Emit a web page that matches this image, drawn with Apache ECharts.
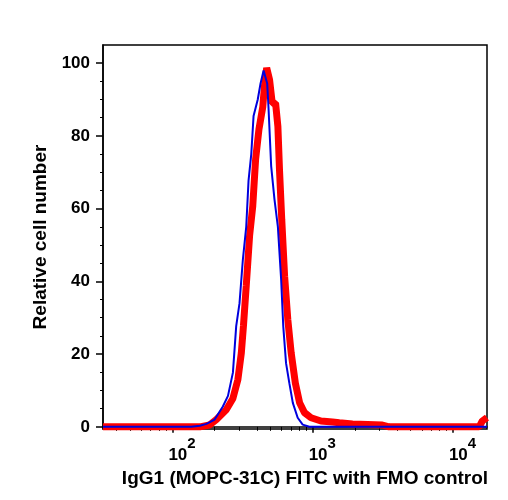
<!DOCTYPE html>
<html>
<head>
<meta charset="utf-8">
<script src="https://cdn.jsdelivr.net/npm/echarts@6/dist/echarts.min.js"></script>
<style>
  html, body { margin: 0; padding: 0; background: #fff; }
  #chart-container { width: 508px; height: 500px; }
</style>
</head>
<body>
<div id="chart-container"></div>
<script>
// FMO control (blue, thin)
var blueX = [32, 100, 136, 157, 175, 200, 229, 249, 270, 285, 301, 318, 336, 349, 365, 379, 406, 425, 447, 461, 474, 484, 506, 534, 565, 596, 617, 646, 682, 722, 782, 849, 947, 17500];
var blueY = [0, 0, 0, 0.3, 0.8, 2, 5.6, 8.5, 14.9, 27.7, 34, 46, 55, 67.7, 75, 85.5, 90, 94.4, 98, 98.3, 94.4, 88, 71.7, 62.6, 55, 40.5, 27.7, 17.5, 12, 6.6, 2.5, 0.6, 0, 0];

// IgG1 FITC (red, thick)
var redX = [32, 100, 157, 184, 206, 242, 270, 293, 310, 321, 336, 355, 374, 392, 414, 441, 453, 470, 493, 515, 544, 565, 580, 602, 631, 665, 703, 753, 807, 874, 974, 1146, 1385, 1549, 1925, 3140, 3500, 15400, 16200, 17200, 17500];
var redY = [0, 0, 0, 0.5, 2, 4.7, 7.8, 13, 20.3, 27.7, 38.7, 52.5, 60.7, 73.6, 81.8, 88, 93.6, 98.7, 95.4, 89, 89, 82.6, 70.8, 57, 41.4, 29.5, 20.3, 12, 6.6, 3.9, 2.5, 1.6, 1.3, 1.1, 0.8, 0.5, 0, 0, 1.6, 2.3, 2.5];

var yMajor = [0, 20, 40, 60, 80, 100];
var yMinor = [5, 10, 15, 25, 30, 35, 45, 50, 55, 65, 70, 75, 85, 90, 95];
var xMajor = [100, 1000, 10000];
var xMinor = [40, 50, 60, 70, 80, 90, 200, 300, 400, 500, 600, 700, 800, 900,
  2000, 3000, 4000, 5000, 6000, 7000, 8000, 9000];

function zip(xs, ys) {
  return xs.map(function (x, i) { return [x, ys[i]]; });
}

var dom = document.getElementById("chart-container");
var myChart = echarts.init(dom, null, { renderer: "canvas" });

var font = "Liberation Sans";
var xMin = 32, xMax = 17500, yMin = -0.6, yMax = 105;

var option = {
  animation: false,
  textStyle: { fontFamily: font },
  grid: {
    left: 103, right: 21, top: 45, bottom: 71,
    show: true, borderColor: "#000", borderWidth: 1.5
  },
  xAxis: [
    {
      type: "log", logBase: 10, min: xMin, max: xMax,
      name: "IgG1 (MOPC-31C) FITC with FMO control",
      nameLocation: "middle", nameGap: 38,
      nameTextStyle: { fontSize: 19, fontWeight: "bold", color: "#000", fontFamily: font, padding: [0, 0, 0, 20] },
      axisLine: { show: true, lineStyle: { color: "#000", width: 1.5 } },
      axisTick: { show: true, length: 6, lineStyle: { color: "#000", width: 1.5 }, customValues: xMajor },
      axisLabel: {
        customValues: xMajor, margin: 7, align: "left",
        formatter: function (v) {
          return "{b|10}{s|" + Math.round(Math.log10(v)) + "}";
        },
        rich: {
          b: { fontSize: 17, fontWeight: "bold", color: "#000", fontFamily: font, lineHeight: 28, verticalAlign: "bottom", padding: [0, 0, 0, -4] },
          s: { fontSize: 15, fontWeight: "bold", color: "#000", fontFamily: font, lineHeight: 15, verticalAlign: "top" }
        }
      },
      splitLine: { show: false }
    },
    {
      type: "log", logBase: 10, min: xMin, max: xMax, position: "bottom",
      axisLine: { show: false },
      axisTick: { show: true, length: 4, lineStyle: { color: "#000", width: 1 }, customValues: xMinor },
      axisLabel: { show: false },
      splitLine: { show: false }
    }
  ],
  yAxis: [
    {
      type: "value", min: yMin, max: yMax,
      name: "Relative cell number",
      nameLocation: "middle", nameGap: 52,
      nameTextStyle: { fontSize: 19, fontWeight: "bold", color: "#000", fontFamily: font },
      axisLine: { show: true, lineStyle: { color: "#000", width: 1.5 } },
      axisTick: { show: true, length: 7, lineStyle: { color: "#000", width: 1.5 }, customValues: yMajor },
      axisLabel: { customValues: yMajor, margin: 13, fontSize: 17, fontWeight: "bold", color: "#000", fontFamily: font },
      splitLine: { show: false }
    },
    {
      type: "value", min: yMin, max: yMax, position: "left",
      axisLine: { show: false },
      axisTick: { show: true, length: 3, lineStyle: { color: "#000", width: 1 }, customValues: yMinor },
      axisLabel: { show: false },
      splitLine: { show: false }
    }
  ],
  series: [
    {
      name: "IgG1 FITC", type: "line", showSymbol: false,
      data: zip(redX, redY),
      lineStyle: { color: "#ff0000", width: 7 },
      itemStyle: { color: "#ff0000" },
      z: 2
    },
    {
      name: "FMO control", type: "line", showSymbol: false,
      data: zip(blueX, blueY),
      lineStyle: { color: "#0000dd", width: 2 },
      itemStyle: { color: "#0000dd" },
      z: 3
    }
  ]
};

myChart.setOption(option);
window.addEventListener("resize", myChart.resize);
</script>
</body>
</html>
